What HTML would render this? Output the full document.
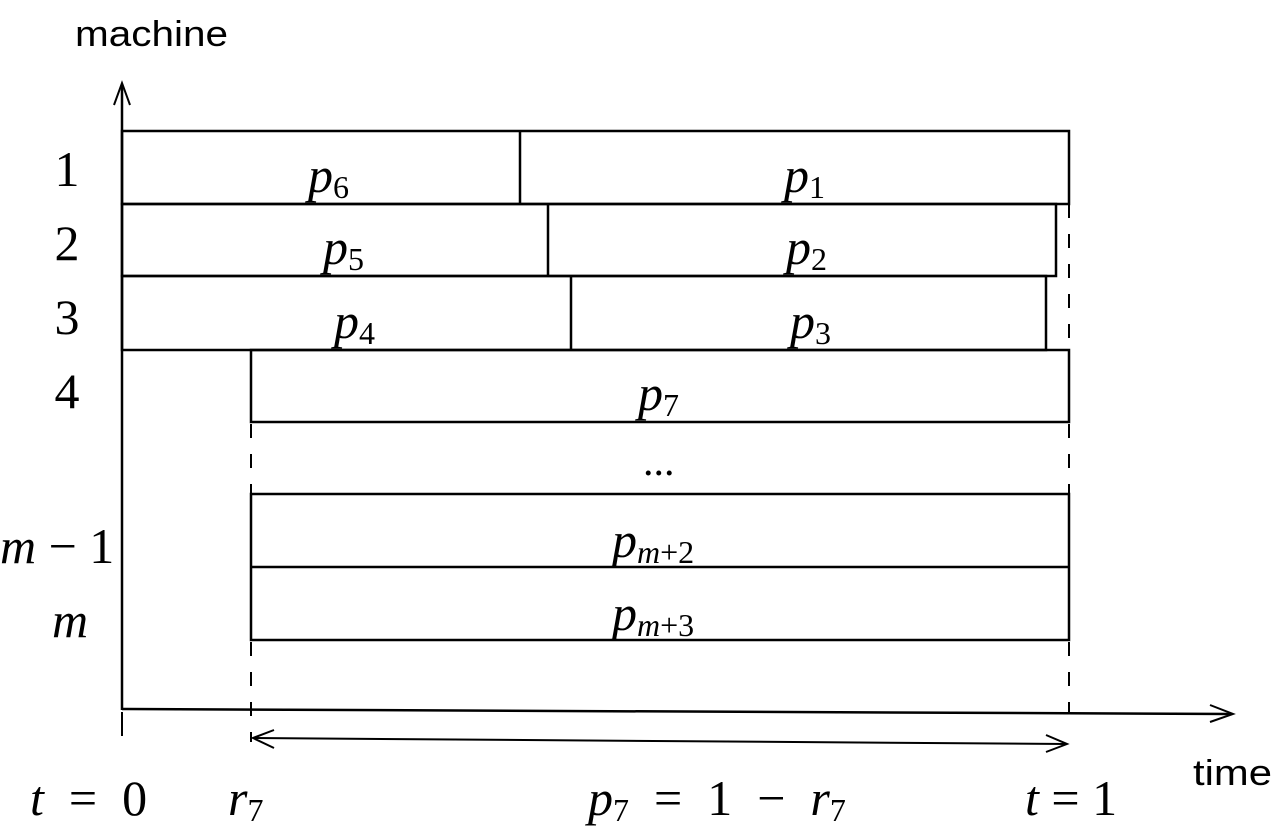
<!DOCTYPE html>
<html><head><meta charset="utf-8"><style>
html,body{margin:0;padding:0;background:#fff;}
svg{display:block}
.s{font-family:"Liberation Sans","DejaVu Sans",sans-serif;}
.r{font-family:"Liberation Serif","DejaVu Serif",serif;}
.i{font-family:"Liberation Serif","DejaVu Serif",serif;font-style:italic;}
.pre{white-space:pre;}
</style></head><body>
<svg width="1278" height="839" viewBox="0 0 1278 839" xmlns="http://www.w3.org/2000/svg">
<g stroke="#000" fill="none" stroke-width="2.5">
<line x1="122" y1="84" x2="122" y2="710"/>
<polyline points="114,105 122,83 130,105" stroke-width="2"/>
<line x1="122" y1="709" x2="1232" y2="714"/>
<polyline points="1210,705 1233,714 1210,722" stroke-width="2"/>
<line x1="122" y1="712" x2="122" y2="736" stroke-width="2"/>
<rect x="122" y="131" width="947" height="73"/>
<line x1="520" y1="131" x2="520" y2="204"/>
<rect x="122" y="204" width="934" height="72"/>
<line x1="548" y1="204" x2="548" y2="276"/>
<rect x="122" y="276" width="924" height="74"/>
<line x1="571" y1="276" x2="571" y2="350"/>
<rect x="251" y="350" width="818" height="72"/>
<rect x="251" y="494" width="818" height="146"/>
<line x1="251" y1="567" x2="1069" y2="567"/>
<g stroke-dasharray="14,16" stroke-width="2">
<line x1="1069" y1="204" x2="1069" y2="350"/>
<line x1="251" y1="424" x2="251" y2="494"/>
<line x1="1069" y1="424" x2="1069" y2="494"/>
<line x1="251" y1="642" x2="251" y2="742"/>
<line x1="1069" y1="642" x2="1069" y2="714"/>
</g>
<line x1="253" y1="738" x2="1067" y2="744" stroke-width="2"/>
<polyline points="274,730 253,738 274,748" stroke-width="2"/>
<polyline points="1046,735 1067,744 1046,752" stroke-width="2"/>
</g>
<g fill="#000">
<text x="75" y="46" class="s" font-size="36" textLength="153" lengthAdjust="spacingAndGlyphs">machine</text>
<text x="1193" y="785" class="s" font-size="36" textLength="79" lengthAdjust="spacingAndGlyphs">time</text>
<g class="r" font-size="50" text-anchor="middle">
<text x="67" y="186">1</text>
<text x="67" y="260">2</text>
<text x="67" y="334">3</text>
<text x="67" y="408">4</text>
</g>
<text x="0" y="563" class="i" font-size="50">m<tspan class="r" font-style="normal"> − 1</tspan></text>
<text x="52" y="637" class="i" font-size="50">m</text>
<g class="i" font-size="50">
<text x="308" y="192">p<tspan font-size="32" font-style="normal" dy="6">6</tspan></text>
<text x="784" y="192">p<tspan font-size="32" font-style="normal" dy="6">1</tspan></text>
<text x="323" y="264">p<tspan font-size="32" font-style="normal" dy="6">5</tspan></text>
<text x="786" y="264">p<tspan font-size="32" font-style="normal" dy="6">2</tspan></text>
<text x="334" y="338">p<tspan font-size="32" font-style="normal" dy="6">4</tspan></text>
<text x="790" y="338">p<tspan font-size="32" font-style="normal" dy="6">3</tspan></text>
<text x="638" y="410">p<tspan font-size="32" font-style="normal" dy="6">7</tspan></text>
<text x="612" y="557">p<tspan font-size="32" dy="6">m<tspan font-style="normal">+2</tspan></tspan></text>
<text x="612" y="630">p<tspan font-size="32" dy="6">m<tspan font-style="normal">+3</tspan></tspan></text>
<text x="30" y="815" class="pre" xml:space="preserve">t<tspan font-style="normal">  =  0</tspan></text>
<text x="228" y="815">r<tspan font-size="32" font-style="normal" dy="6">7</tspan></text>
<text x="588" y="815" class="pre" xml:space="preserve">p<tspan font-size="32" font-style="normal" dy="6">7</tspan><tspan font-style="normal" dy="-6">  =  1  −  </tspan>r<tspan font-size="32" font-style="normal" dy="6">7</tspan></text>
<text x="1025" y="815">t<tspan font-style="normal"> = 1</tspan></text>
</g>
<text x="643" y="475" class="r" font-size="42">...</text>
</g>
</svg>
</body></html>
